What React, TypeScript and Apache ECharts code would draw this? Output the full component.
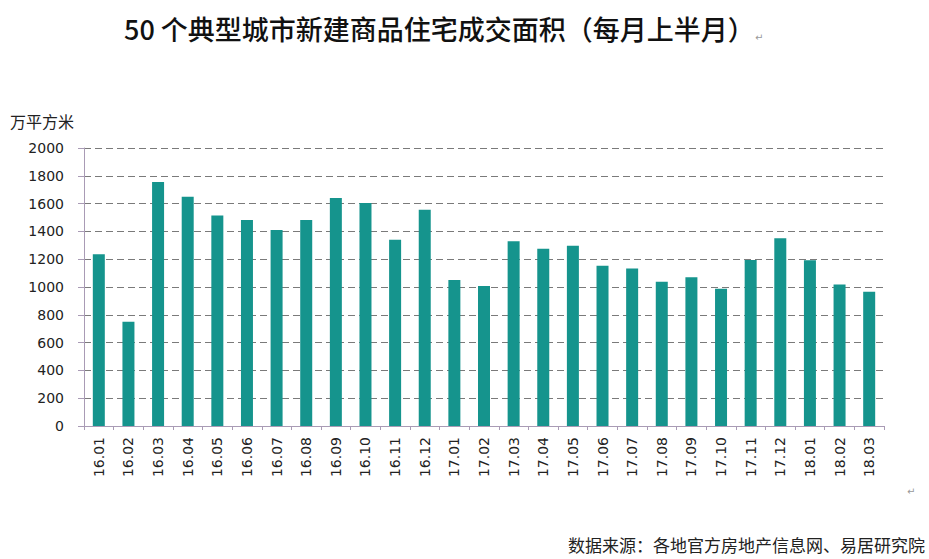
import React, { useEffect, useRef } from "react";
import * as echarts from "echarts";

const categories = [
  "16.01", "16.02", "16.03", "16.04", "16.05", "16.06", "16.07", "16.08", "16.09",
  "16.10", "16.11", "16.12", "17.01", "17.02", "17.03", "17.04", "17.05", "17.06",
  "17.07", "17.08", "17.09", "17.10", "17.11", "17.12", "18.01", "18.02", "18.03",
];
const areaValues = [
  1235, 750, 1755, 1650, 1515, 1482, 1410, 1482, 1640,
  1605, 1340, 1555, 1050, 1008, 1330, 1276, 1296, 1152,
  1133, 1037, 1070, 988, 1195, 1350, 1192, 1018, 965,
];
const titleText = "50 个典型城市新建商品住宅成交面积（每月上半月）";
const unitText = "万平方米";
const sourceText = "数据来源：各地官方房地产信息网、易居研究院";

export default function App() {
  const ref = useRef<HTMLDivElement>(null);
  useEffect(() => {
    if (!ref.current) return;
    const chart = echarts.init(ref.current, null, { renderer: "svg" });
    const axisColor = "#a99bb5";
    chart.setOption({
      animation: false,
      backgroundColor: "#ffffff",
      grid: { left: 84, top: 148, right: 45, bottom: 133, containLabel: false },
      xAxis: {
        type: "category",
        data: categories,
        axisLine: { show: true, lineStyle: { color: axisColor, width: 1 } },
        axisTick: { show: true, length: 4, lineStyle: { color: axisColor } },
        axisLabel: {
          rotate: 90,
          margin: 11,
          interval: 0,
          color: "#222",
          fontFamily: "DejaVu Sans",
          fontSize: 14,
        },
      },
      yAxis: {
        type: "value",
        min: 0,
        max: 2000,
        interval: 200,
        axisLine: { show: true, lineStyle: { color: axisColor, width: 1 } },
        axisTick: { show: true, length: 6, lineStyle: { color: axisColor } },
        axisLabel: {
          margin: 20,
          color: "#222",
          fontFamily: "DejaVu Sans",
          fontSize: 14,
          formatter: (v: number) => String(v),
        },
        splitLine: {
          show: true,
          lineStyle: { color: "#7a7a7a", type: [7, 4], width: 1 },
        },
      },
      series: [
        {
          type: "bar",
          data: areaValues,
          barWidth: 12,
          itemStyle: { color: "#15948d" },
        },
      ],
      graphic: [
        {
          type: "text",
          left: 124,
          top: 15,
          style: {
            text: titleText,
            fill: "#111",
            font: "500 27px 'Noto Sans CJK SC', serif",
          },
        },
        {
          type: "text",
          left: 755,
          top: 32,
          style: { text: "↵", fill: "#999", font: "10px 'DejaVu Sans'" },
        },
        {
          type: "text",
          left: 10,
          top: 113,
          style: { text: unitText, fill: "#222", font: "16px 'Noto Sans CJK SC'" },
        },
        {
          type: "text",
          left: 907,
          top: 486,
          style: { text: "↵", fill: "#999", font: "10px 'DejaVu Sans'" },
        },
        {
          type: "text",
          left: 568,
          top: 536,
          style: { text: sourceText, fill: "#222", font: "17px 'Noto Sans CJK SC'" },
        },
      ],
    });
    return () => chart.dispose();
  }, []);
  return (
    <div
      ref={ref}
      style={{ position: "fixed", left: 0, top: 0, width: 929, height: 559 }}
    />
  );
}
